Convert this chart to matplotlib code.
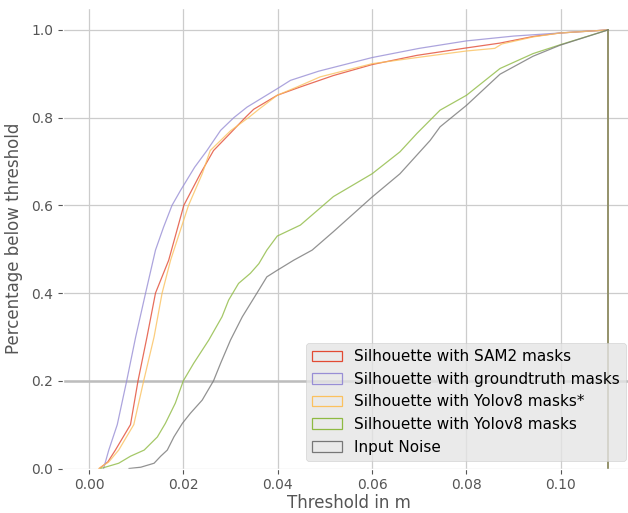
import matplotlib
matplotlib.use("Agg")
import matplotlib.pyplot as plt
from matplotlib.patches import Patch

plt.style.use("ggplot")

labels = [
    "Silhouette with SAM2 masks",
    "Silhouette with groundtruth masks",
    "Silhouette with Yolov8 masks*",
    "Silhouette with Yolov8 masks",
    "Input Noise",
]
colors = ["#E24A33", "#988ED5", "#FBC15E", "#8EBA42", "#777777"]

# Cumulative fraction below threshold
sam2_x = [0.0022, 0.0040, 0.0056, 0.0088, 0.0104, 0.0123, 0.0141, 0.0169, 0.0201, 0.0236,
          0.0264, 0.0300, 0.0331, 0.0349, 0.0399, 0.0448, 0.0518, 0.0600, 0.0695, 0.0800,
          0.0871, 0.0941, 0.0998, 0.1100]
sam2_y = [0.0, 0.015, 0.042, 0.10, 0.20, 0.30, 0.40, 0.475, 0.60, 0.672,
          0.725, 0.765, 0.80, 0.819, 0.851, 0.870, 0.896, 0.921, 0.942, 0.959,
          0.970, 0.985, 0.993, 1.0]

gt_x = [0.0031, 0.0042, 0.0060, 0.0080, 0.0099, 0.0120, 0.0141, 0.0158, 0.0176, 0.0194,
        0.0224, 0.0250, 0.0279, 0.0307, 0.0335, 0.0399, 0.0427, 0.0487, 0.0600, 0.0700,
        0.0800, 0.0900, 0.0998, 0.1100]
gt_y = [0.0, 0.042, 0.10, 0.20, 0.30, 0.40, 0.498, 0.55, 0.60, 0.634,
        0.687, 0.725, 0.771, 0.80, 0.824, 0.866, 0.885, 0.906, 0.937, 0.958,
        0.975, 0.986, 0.993, 1.0]

yolo_star_x = [0.0021, 0.0042, 0.0063, 0.0095, 0.0116, 0.0138, 0.0155, 0.0173, 0.0211, 0.0240,
               0.0257, 0.0300, 0.0338, 0.0360, 0.0399, 0.0441, 0.0490, 0.0600, 0.0695, 0.0800,
               0.0860, 0.0875, 0.0941, 0.0998, 0.1100]
yolo_star_y = [0.0, 0.015, 0.042, 0.10, 0.20, 0.30, 0.40, 0.475, 0.60, 0.672,
               0.725, 0.77, 0.80, 0.819, 0.851, 0.870, 0.893, 0.923, 0.937, 0.952,
               0.958, 0.968, 0.984, 0.993, 1.0]

yolo_x = [0.0025, 0.0063, 0.0088, 0.0117, 0.0145, 0.0162, 0.0183, 0.0200, 0.0222, 0.0254,
          0.0282, 0.0296, 0.0317, 0.0342, 0.0360, 0.0377, 0.0399, 0.0448, 0.0518, 0.0600,
          0.0659, 0.0695, 0.0744, 0.0800, 0.0871, 0.0941, 0.0998, 0.1100]
yolo_y = [0.0, 0.012, 0.028, 0.042, 0.072, 0.103, 0.149, 0.200, 0.240, 0.293,
          0.346, 0.384, 0.422, 0.445, 0.467, 0.498, 0.530, 0.555, 0.620, 0.672,
          0.722, 0.764, 0.817, 0.851, 0.912, 0.946, 0.966, 1.0]

noise_x = [0.0085, 0.0110, 0.0138, 0.0152, 0.0166, 0.0180, 0.0198, 0.0215, 0.0240, 0.0264,
           0.0279, 0.0300, 0.0325, 0.0356, 0.0377, 0.0399, 0.0434, 0.0473, 0.0518, 0.0600,
           0.0659, 0.0723, 0.0744, 0.0800, 0.0871, 0.0941, 0.0998, 0.1100]
noise_y = [0.0, 0.003, 0.012, 0.028, 0.042, 0.072, 0.103, 0.126, 0.156, 0.200,
           0.240, 0.293, 0.346, 0.400, 0.437, 0.452, 0.475, 0.498, 0.540, 0.619,
           0.672, 0.748, 0.779, 0.828, 0.899, 0.940, 0.965, 1.0]

series = [(sam2_x, sam2_y), (gt_x, gt_y), (yolo_star_x, yolo_star_y),
          (yolo_x, yolo_y), (noise_x, noise_y)]

fig = plt.figure(figsize=(6.28, 5.13), dpi=100)
ax = fig.add_axes([63 / 628, 44.5 / 513, 571 / 628, 460.5 / 513])
ax.set_facecolor("white")
ax.grid(True, color="#cccccc", linewidth=0.9)
ax.axhline(0.2, color="#bdbdbd", linewidth=1.8, zorder=0.9)

for (xs, ys), c in zip(series, colors):
    ax.plot(xs, ys, color=c, lw=0.9, alpha=0.8)
    ax.plot([xs[-1], xs[-1]], [ys[-1], 0.0], color=c, lw=1.2, alpha=0.6)

ax.set_xlim(-0.0055, 0.1155)
ax.set_ylim(0, 1.05)
ax.set_xticks([0.0, 0.02, 0.04, 0.06, 0.08, 0.10])
ax.set_yticks([0.0, 0.2, 0.4, 0.6, 0.8, 1.0])
ax.tick_params(labelsize=10, colors="#555555")
ax.set_xlabel("Threshold in m", fontsize=12, color="#555555", labelpad=1.5)
ax.set_ylabel("Percentage below threshold", fontsize=12, color="#555555", labelpad=6)

handles = [Patch(facecolor="none", edgecolor=c, linewidth=0.9) for c in colors]
ax.legend(handles, labels, loc="lower right", fontsize=11)

fig.savefig("out.png", dpi=100)
